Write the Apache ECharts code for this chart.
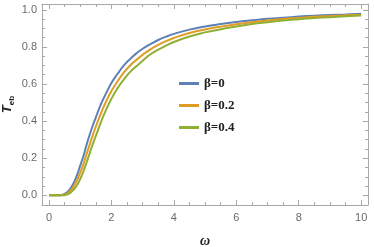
<!DOCTYPE html>
<html>
<head>
<meta charset="utf-8">
<script src="https://cdn.jsdelivr.net/npm/echarts@6/dist/echarts.min.js"></script>
<style>html,body{margin:0;padding:0;background:#fff}#c{width:374px;height:247px}</style>
</head>
<body>
<div id="c"></div>
<script>
const omega = [0,0.3,0.4,0.5,0.6,0.7,0.8,0.9,1.0,1.1,1.2,1.3,1.4,1.5,1.6,1.7,1.8,2.0,2.2,2.4,2.6,2.8,3.0,3.25,3.5,3.75,4.0,4.5,5.0,5.5,6.0,6.5,7.0,7.5,8.0,8.5,9.0,9.5,10];
const beta0  = [0,0,0.002,0.008,0.02,0.04,0.07,0.11,0.16,0.21,0.27,0.325,0.375,0.42,0.465,0.505,0.54,0.605,0.655,0.70,0.735,0.765,0.79,0.815,0.837,0.855,0.87,0.893,0.91,0.923,0.934,0.943,0.951,0.957,0.963,0.968,0.972,0.975,0.978];
const beta02 = [0,0,0.001,0.004,0.012,0.027,0.05,0.082,0.122,0.167,0.22,0.272,0.323,0.37,0.415,0.457,0.495,0.562,0.615,0.662,0.70,0.73,0.757,0.787,0.811,0.831,0.848,0.875,0.894,0.909,0.922,0.933,0.942,0.95,0.956,0.962,0.966,0.97,0.973];
const beta04 = [0,0,0,0.001,0.006,0.016,0.032,0.056,0.088,0.128,0.175,0.225,0.275,0.32,0.365,0.41,0.45,0.52,0.578,0.625,0.665,0.695,0.725,0.76,0.785,0.807,0.826,0.856,0.878,0.895,0.91,0.923,0.933,0.942,0.949,0.955,0.96,0.965,0.969];
const seriesNames = ['β=0','β=0.2','β=0.4'];
const xMajor = [0,2,4,6,8,10];
const xMinor = [0.5,1,1.5,2.5,3,3.5,4.5,5,5.5,6.5,7,7.5,8.5,9,9.5];
const yMajor = [0,0.2,0.4,0.6,0.8,1.0];
const yMinor = [0.05,0.1,0.15,0.25,0.3,0.35,0.45,0.5,0.55,0.65,0.7,0.75,0.85,0.9,0.95];

const frame = '#a8a8a8';
const labelColor = '#6a6a6a';
const colors = ['#5E81B5','#E19C24','#8FB032'];
const xMin = -0.224, xMax = 10.22, yMin = -0.052, yMax = 1.031;

function xAx(pos, vals, len, labels, line){
  return {type:'value', min:xMin, max:xMax, position:pos,
    axisLine:{show:line, onZero:false, lineStyle:{color:frame, width:1}},
    axisTick:{show:true, inside:true, length:len, customValues:vals, lineStyle:{color:frame}},
    axisLabel:{show:labels, customValues:vals, margin:7, color:labelColor, fontSize:11, fontFamily:'Liberation Sans, Arial, sans-serif',
      formatter:v=>String(Math.round(v))},
    splitLine:{show:false}};
}
function yAx(pos, vals, len, labels, line){
  return {type:'value', min:yMin, max:yMax, position:pos,
    axisLine:{show:line, onZero:false, lineStyle:{color:frame, width:1}},
    axisTick:{show:true, inside:true, length:len, customValues:vals, lineStyle:{color:frame}},
    axisLabel:{show:labels, customValues:vals, margin:5, color:labelColor, fontSize:11, fontFamily:'Liberation Sans, Arial, sans-serif',
      formatter:v=>v.toFixed(1)},
    splitLine:{show:false}};
}

const xs = [xAx('bottom', xMajor, 5, true, true), xAx('bottom', xMinor, 3, false, false),
            xAx('top', xMajor, 5, false, true), xAx('top', xMinor, 3, false, false)];
xs[0].name = 'ω';
xs[0].nameLocation = 'middle';
xs[0].nameGap = 29;
xs[0].nameMoveOverlap = false;
xs[0].nameTextStyle = {fontFamily:'Liberation Serif, Times New Roman, serif', fontWeight:'bold', fontStyle:'italic', fontSize:14, color:'#222'};
const ys = [yAx('left', yMajor, 5, true, true), yAx('left', yMinor, 3, false, false),
            yAx('right', yMajor, 5, false, true), yAx('right', yMinor, 3, false, false)];
ys[0].name = '{t|T}{s|eb}';
ys[0].nameLocation = 'middle';
ys[0].nameGap = 28;
ys[0].nameRotate = 90;
ys[0].nameMoveOverlap = false;
ys[0].nameTextStyle = {rich:{
  t:{fontFamily:'Liberation Sans, Arial, sans-serif', fontWeight:'bold', fontStyle:'italic', fontSize:13, color:'#222', verticalAlign:'bottom'},
  s:{fontFamily:'Liberation Sans, Arial, sans-serif', fontWeight:'bold', fontSize:8, color:'#222', verticalAlign:'bottom', padding:[0,0,-2,0]}
}};

const datasets = [beta0, beta02, beta04];
const chart = echarts.init(document.getElementById('c'), null, {renderer:'canvas'});
chart.setOption({
  animation:false,
  backgroundColor:'#fff',
  grid:{left:42, right:6, top:4, bottom:42, containLabel:false, outerBoundsMode:'none'},
  xAxis: xs,
  yAxis: ys,
  legend:{
    data:seriesNames, orient:'vertical', left:174, top:72, itemWidth:20, itemHeight:3, itemGap:9,
    icon:'rect',
    textStyle:{fontFamily:'Liberation Serif, Times New Roman, serif', fontWeight:'bold', fontSize:13, color:'#222', padding:[0,0,0,0]}
  },
  series: datasets.map((d,i)=>({
    name:seriesNames[i], type:'line', xAxisIndex:0, yAxisIndex:0,
    data: omega.map((w,k)=>[w,d[k]]),
    showSymbol:false, smooth:0.5,
    lineStyle:{color:colors[i], width:2}, itemStyle:{color:colors[i]}
  }))
});
</script>
</body>
</html>
